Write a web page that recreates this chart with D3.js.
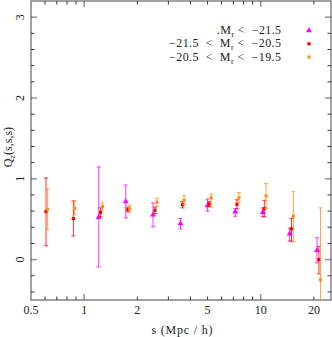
<!DOCTYPE html>
<html>
<head>
<meta charset="utf-8">
<script src="https://cdn.jsdelivr.net/npm/d3@7"></script>
<style>
  body { margin: 0; background: #fff; }
  svg { display: block; }
  text { font-family: "Liberation Serif", "DejaVu Serif", serif; fill: #222; }
</style>
</head>
<body>
<svg id="chart" width="332" height="337"></svg>
<script>
/* ===== DATA ===== */
// -21.5 > Mr (magenta)
const sBright = [1.21, 1.72, 2.455, 3.51, 5.0, 7.17, 10.27, 14.58, 20.83];
const qBright = [0.524, 0.718, 0.553, 0.446, 0.668, 0.59, 0.585, 0.32, 0.115];
const loBright = [-0.09, 0.516, 0.405, 0.38, 0.60, 0.536, 0.53, 0.23, -0.04];
const hiBright = [1.147, 0.924, 0.70, 0.51, 0.75, 0.63, 0.64, 0.39, 0.27];

// -21.5 < Mr < -20.5 (red)
const sMid = [0.608, 0.869, 1.238, 1.769, 2.518, 3.605, 5.105, 7.335, 10.48, 14.93, 21.36];
const qMid = [0.594, 0.507, 0.585, 0.619, 0.61, 0.68, 0.69, 0.684, 0.63, 0.38, 0.0];
const loMid = [0.17, 0.293, 0.53, 0.59, 0.57, 0.64, 0.66, 0.63, 0.53, 0.226, -0.177];
const hiMid = [1.01, 0.726, 0.64, 0.65, 0.65, 0.72, 0.72, 0.74, 0.734, 0.51, 0.165];

// -20.5 < Mr < -19.5 (orange)
const sFaint = [0.621, 0.884, 1.27, 1.81, 2.585, 3.68, 5.24, 7.53, 10.72, 15.3, 21.8];
const qFaint = [0.62, 0.635, 0.656, 0.63, 0.709, 0.734, 0.764, 0.764, 0.788, 0.536, -0.25];
const loFaint = [0.37, 0.557, 0.61, 0.59, 0.66, 0.68, 0.65, 0.71, 0.63, 0.22, -0.9];
const hiFaint = [0.875, 0.726, 0.70, 0.67, 0.76, 0.79, 0.81, 0.83, 0.94, 0.84, 0.64];

const xTickLabels = [0.5, 1, 2, 5, 10, 20];
const xMajor = [1, 10];
const xMinor = [0.6, 0.7, 0.8, 0.9, 2, 3, 4, 5, 6, 7, 8, 9, 20];
const yTickLabels = [0, 1, 2, 3];

/* ===== SETUP ===== */
const margin = { left: 31, right: 1, top: 1, bottom: 37 };
const W = 332, H = 337;
const svg = d3.select("#chart");

const x = d3.scaleLog().domain([0.5, 25]).range([margin.left, W - margin.right]);
const y = d3.scaleLinear().domain([-0.5, 3.2]).range([H - margin.bottom, margin.top]);

const x0 = x.range()[0], x1 = x.range()[1];
const y0 = y.range()[0], y1 = y.range()[1];

svg.append("defs").append("clipPath").attr("id", "clip")
  .append("rect").attr("x", x0).attr("y", y1).attr("width", x1 - x0).attr("height", y0 - y1);

/* ===== TICKS ===== */
const tickG = svg.append("g");
function xTick(v, len, major) {
  [[y0, -1], [y1, 1]].forEach(([yy, dir]) => {
    tickG.append("line")
      .attr("x1", x(v)).attr("x2", x(v))
      .attr("y1", yy).attr("y2", yy + dir * len)
      .attr("stroke", major ? "#999" : "#333")
      .attr("stroke-width", major ? 1.6 : 1);
  });
}
function yTick(v, len, major) {
  [[x0, 1], [x1, -1]].forEach(([xx, dir]) => {
    tickG.append("line")
      .attr("y1", y(v)).attr("y2", y(v))
      .attr("x1", xx).attr("x2", xx + dir * len)
      .attr("stroke", major ? "#999" : "#333")
      .attr("stroke-width", major ? 1.6 : 1);
  });
}
xMajor.forEach((v) => xTick(v, 6, true));
xMinor.forEach((v) => xTick(v, 3.5, false));
yTickLabels.forEach((v) => yTick(v, 6, true));
d3.range(-0.4, 3.2, 0.2)
  .filter((v) => Math.abs(v - Math.round(v)) > 0.01)
  .forEach((v) => yTick(v, 3.5, false));

svg.append("rect")
  .attr("x", x0).attr("y", y1)
  .attr("width", x1 - x0).attr("height", y0 - y1)
  .attr("fill", "none").attr("stroke", "#444").attr("stroke-width", 1);

/* ===== TICK LABELS ===== */
svg.append("g").selectAll("text").data(xTickLabels).join("text")
  .attr("x", (d) => x(d)).attr("y", 314)
  .attr("text-anchor", "middle")
  .attr("font-size", 12)
  .text((d) => d);

svg.append("g").selectAll("text").data(yTickLabels).join("text")
  .attr("transform", (d) => `translate(20,${y(d)}) rotate(-90)`)
  .attr("text-anchor", "middle")
  .attr("dominant-baseline", "central")
  .attr("font-size", 12)
  .text((d) => d);

/* ===== AXIS TITLES ===== */
svg.append("text")
  .attr("x", 182).attr("y", 334)
  .attr("text-anchor", "middle")
  .attr("font-size", 12)
  .attr("textLength", 61).attr("lengthAdjust", "spacing")
  .attr("xml:space", "preserve")
  .text("s (Mpc / h)");

const yl = svg.append("text")
  .attr("transform", "translate(12,147) rotate(-90)")
  .attr("text-anchor", "middle")
  .attr("font-size", 12);
yl.append("tspan").text("Q");
yl.append("tspan").attr("font-size", 8).attr("dy", 3).text("z");
yl.append("tspan").attr("dy", -3).text("(s,s,s)");

/* ===== SERIES ===== */
const series = [
  { s: sBright, q: qBright, lo: loBright, hi: hiBright, color: "#ff00ff", shape: "tri" },
  { s: sMid, q: qMid, lo: loMid, hi: hiMid, color: "#ff0000", shape: "sq" },
  { s: sFaint, q: qFaint, lo: loFaint, hi: hiFaint, color: "#ff8c1a", shape: "sq" }
];

const plot = svg.append("g").attr("clip-path", "url(#clip)");

series.forEach((ser) => {
  const pts = ser.s.map((s, i) => ({ s, q: ser.q[i], lo: ser.lo[i], hi: ser.hi[i] }));
  const g = plot.append("g");
  const bars = g.selectAll("g.eb").data(pts).join("g").attr("class", "eb")
    .attr("stroke", ser.color).attr("stroke-opacity", 0.8).attr("stroke-width", 1);
  bars.append("line")
    .attr("x1", (d) => x(d.s)).attr("x2", (d) => x(d.s))
    .attr("y1", (d) => y(d.lo)).attr("y2", (d) => y(d.hi));
  bars.append("line")
    .attr("x1", (d) => x(d.s) - 2).attr("x2", (d) => x(d.s) + 2)
    .attr("y1", (d) => y(d.lo)).attr("y2", (d) => y(d.lo));
  bars.append("line")
    .attr("x1", (d) => x(d.s) - 2).attr("x2", (d) => x(d.s) + 2)
    .attr("y1", (d) => y(d.hi)).attr("y2", (d) => y(d.hi));

  drawMarkers(g, pts.map((d) => [x(d.s), y(d.q)]), ser);
});

function drawMarkers(g, xy, ser) {
  const sym = ser.shape === "tri" ? d3.symbolTriangle : d3.symbolSquare;
  const size = ser.shape === "tri" ? 15 : 10;
  g.selectAll("path.m").data(xy).join("path").attr("class", "m")
    .attr("transform", (d) => `translate(${d[0]},${d[1]})`)
    .attr("d", d3.symbol(sym, size))
    .attr("fill", ser.color);
}

/* ===== LEGEND ===== */
const legend = [
  { parts: [".M", "r", " <  −21.5"], width: 64 },
  { parts: ["−21.5  <  M", "r", " <  −20.5"], width: 112 },
  { parts: ["−20.5  <  M", "r", " <  −19.5"], width: 112 }
];
legend.forEach((l, i) => {
  const yy = 34 + i * 13.3;
  const t = svg.append("text")
    .attr("x", 281).attr("y", yy)
    .attr("text-anchor", "end")
    .attr("font-size", 12)
    .attr("xml:space", "preserve")
    .attr("textLength", l.width).attr("lengthAdjust", "spacing");
  t.append("tspan").text(l.parts[0]);
  t.append("tspan").attr("font-size", 8).attr("dy", 3).text(l.parts[1]);
  t.append("tspan").attr("dy", -3).text(l.parts[2]);
  drawMarkers(svg.append("g"), [[309, yy - 3.5]], series[i]);
});
</script>
</body>
</html>
